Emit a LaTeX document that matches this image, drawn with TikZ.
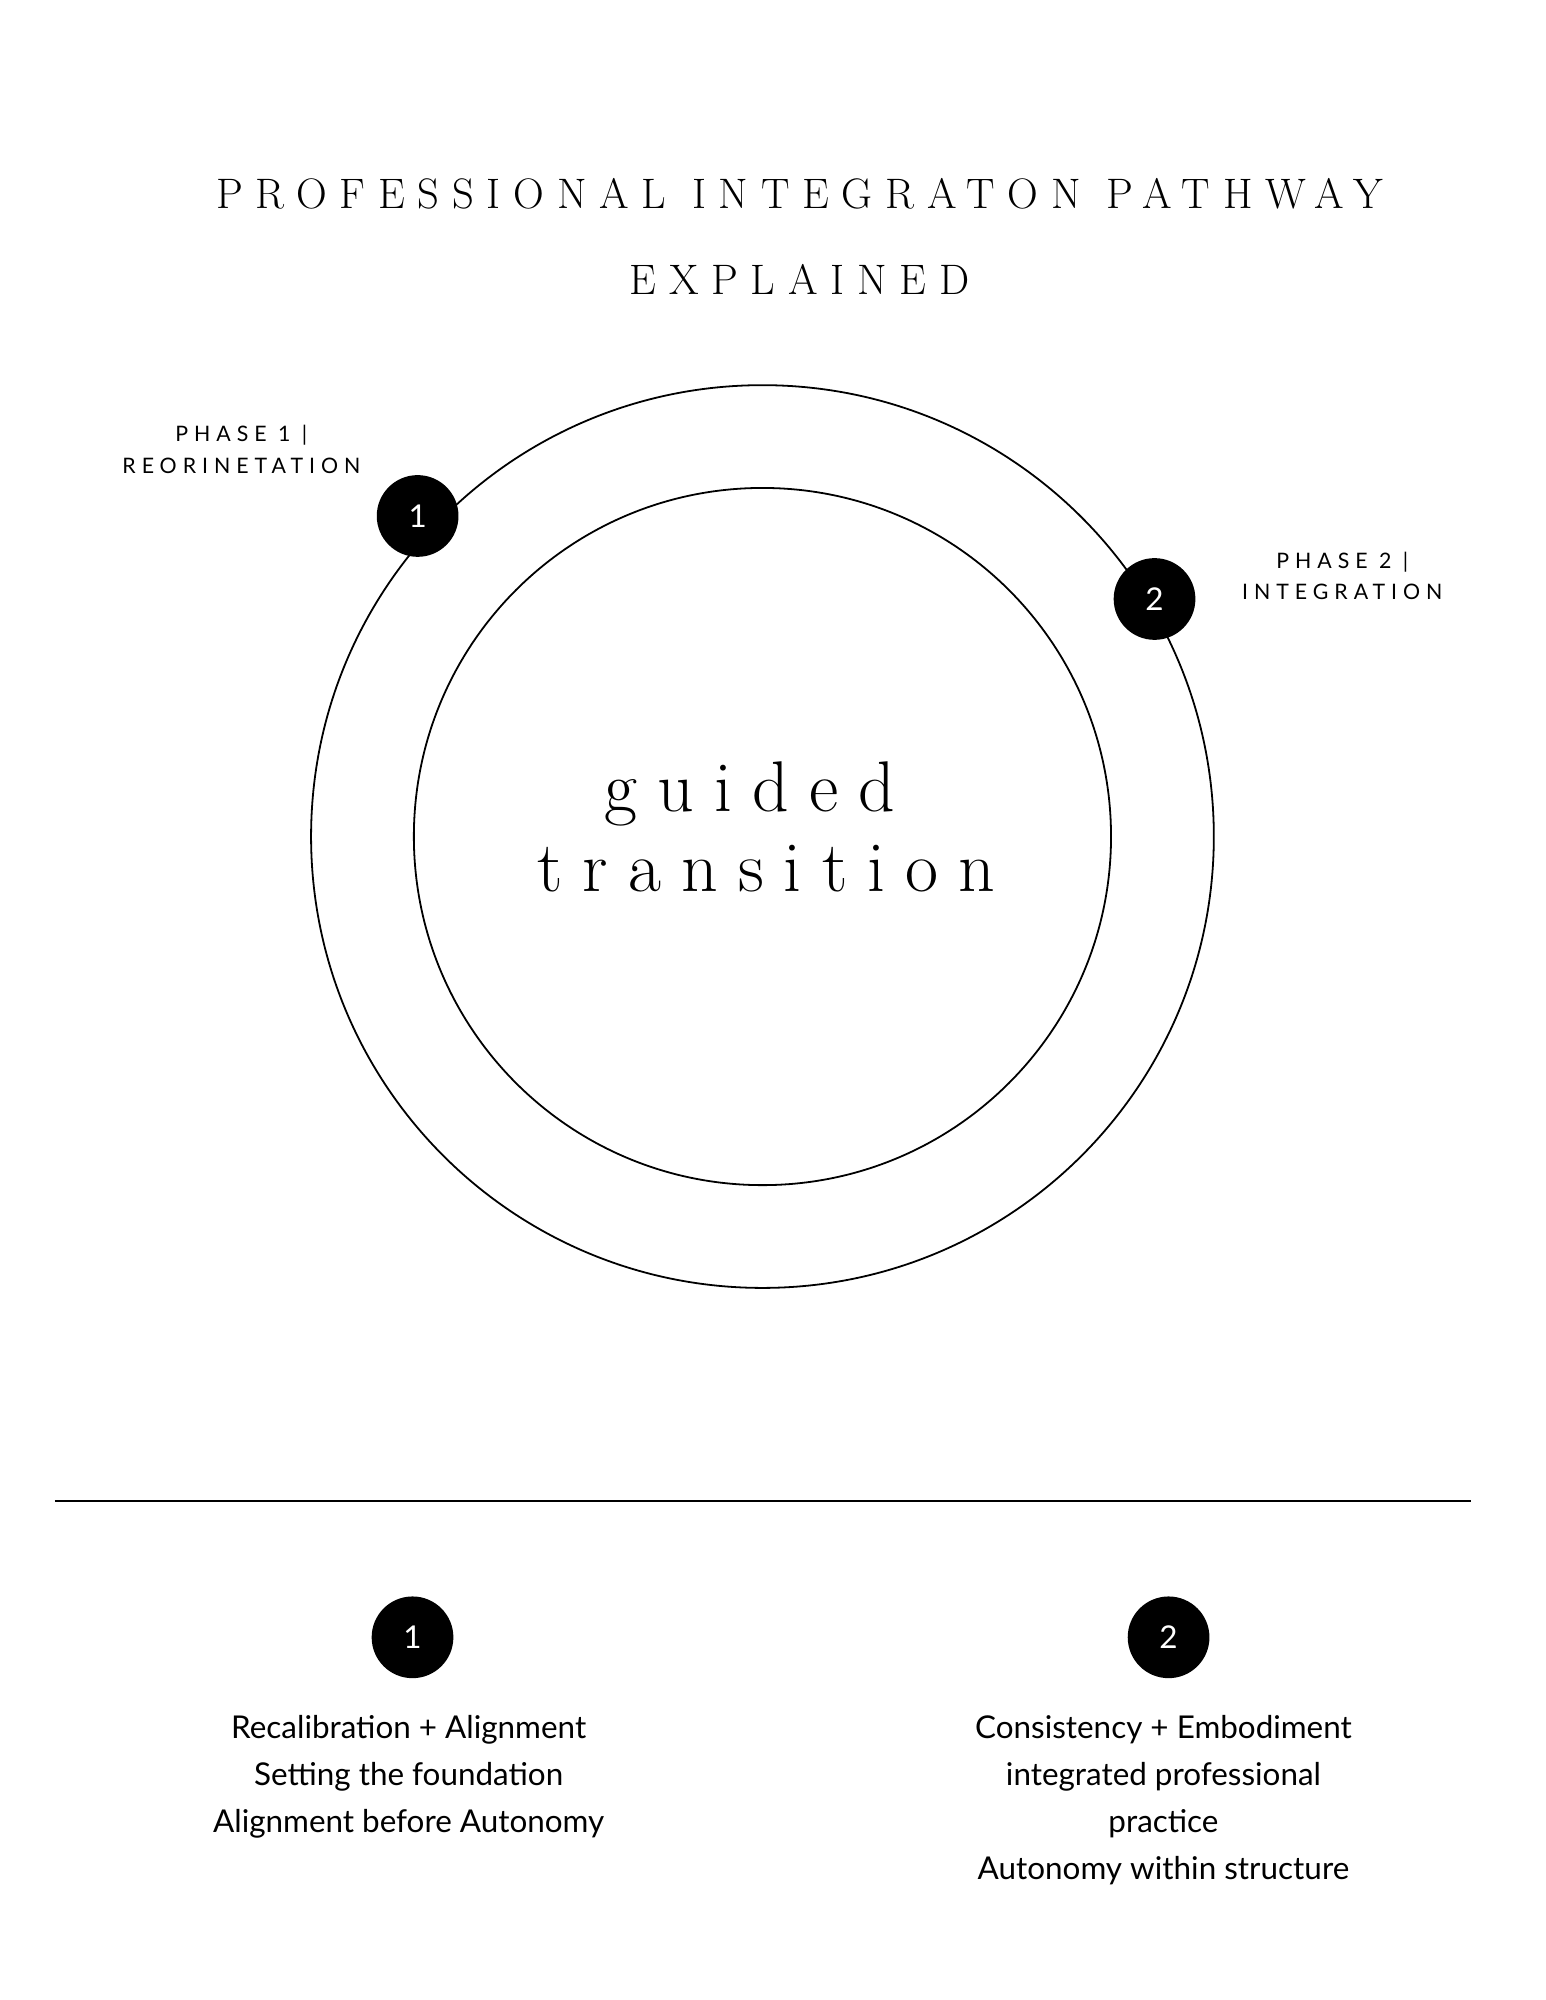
\documentclass[tikz,border=0pt]{standalone}
\usepackage{fontspec}
\setmainfont{Latin Modern Roman}
\newfontfamily\lab[LetterSpace=28]{Lato}
\newfontfamily\bod{Lato}
\newfontfamily\ttl[LetterSpace=30]{Latin Modern Roman}
\newfontfamily\bigserif[LetterSpace=28]{Latin Modern Roman}
\begin{document}
\begin{tikzpicture}[x=0.02cm,y=-0.02cm,
  dot/.style={circle,fill=black,minimum size=1.28cm,inner sep=0pt,text=white,font=\bod\fontsize{14}{16}\selectfont},
  ring/.style={draw=black,line width=0.8pt},
  ph/.style={font=\lab\fontsize{9.5}{14}\selectfont,align=center},
  body/.style={font=\bod\fontsize{14}{21}\selectfont,align=center}]
\useasboundingbox (0,0) rectangle (1210,1566);
\node (t1) at (626,152) {\ttl\fontsize{19}{25}\selectfont PROFESSIONAL INTEGRATON PATHWAY};
\node (t2) at (626,219) {\ttl\fontsize{19}{25}\selectfont EXPLAINED};
\node[ring,circle,minimum size=14.14cm,inner sep=0pt] (outer) at (597,655) {};
\node[ring,circle,minimum size=10.92cm,inner sep=0pt] (inner) at (597,655) {};
\node[dot] (d1) at (327,404) {1};
\node[dot] (d2) at (904,469) {2};
\node[ph] (p1) at (189,352) {PHASE 1 |\\REORINETATION};
\node[ph] (p2) at (1051,451) {PHASE 2 |\\INTEGRATION};
\node (g) at (587,622) {\bigserif\fontsize{32}{40}\selectfont guided};
\node (tr) at (600,680) {\bigserif\fontsize{32}{40}\selectfont transition};
\coordinate (la) at (43,1175); \coordinate (lb) at (1152,1175);
\draw[line width=0.8pt] (la) -- (lb);
\node[dot] (b1) at (323,1282) {1};
\node[dot] (b2) at (915,1282) {2};
\node[body,anchor=north] (x1) at (320,1337) {Recalibration + Alignment\\Setting the foundation\\Alignment before Autonomy};
\node[body,anchor=north] (x2) at (911,1337) {Consistency + Embodiment\\integrated professional\\practice\\Autonomy within structure};
\end{tikzpicture}
\end{document}
